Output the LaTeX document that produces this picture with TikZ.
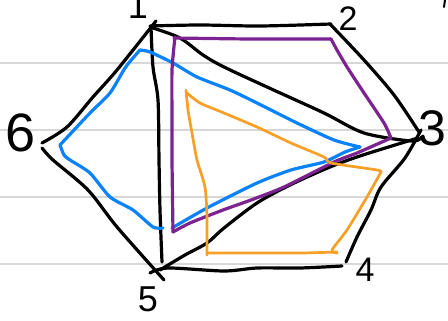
\documentclass[tikz,border=0pt]{standalone}
\usepackage{fontspec}
\setmainfont{Liberation Sans}
\definecolor{hblue}{RGB}{10,130,250}
\definecolor{hpurple}{RGB}{125,35,145}
\definecolor{horange}{RGB}{247,160,40}
\definecolor{hgray}{RGB}{215,215,215}
\tikzset{
  ink/.style={line width=3.2pt, line cap=round, line join=round},
  blk/.style={ink, black},
  blu/.style={ink, hblue},
  pur/.style={ink, hpurple},
  ora/.style={ink, horange, line width=2.7pt},
  rule/.style={hgray, line width=1.5pt},
  lab/.style={inner sep=0pt, font=\fontsize{#1}{#1}\selectfont}
}
\begin{document}
\begin{tikzpicture}[x=1pt,y=-1pt]
\useasboundingbox (0,0) rectangle (448,321);
\fill[white] (0,0) rectangle (448,321);
% notebook rules
\foreach \yy in {63,130,197,264} \draw[rule] (0,\yy) -- (448,\yy);
% vertices
\coordinate (v1) at (153,24);
\coordinate (v2) at (331,25);
\coordinate (v3) at (419,133);
\coordinate (v4) at (344,265);
\coordinate (v5) at (158,271);
\coordinate (v6) at (42,144);
% hexagon
\draw[blk] plot[smooth,tension=0.5] coordinates {(150,26) (200,25) (260,26) (331,24)};
\draw[blk] plot[smooth,tension=0.5] coordinates {(330,24) (364,60) (394,95) (419,132)};
\draw[blk] plot[smooth,tension=0.5] coordinates {(421,130) (405,158) (381,187) (371,210) (357,237) (346,262)};
\draw[blk] plot[smooth,tension=0.5] coordinates {(342,266) (300,268) (257,268) (224,271) (168,268) (150,273)};
\draw[blk] plot[smooth,tension=0.5] coordinates {(164,280) (117,227) (88,190) (53,160) (42,148)};
\draw[blk] plot[smooth,tension=0.5] coordinates {(42,143) (67,127) (93,97) (117,70) (156,21)};
% diagonals
\draw[blk] plot[smooth,tension=0.5] coordinates {(151,27) (153,67) (158,100) (159,160) (160,210) (162,262)};
\draw[blk] plot[smooth,tension=0.5] coordinates {(153,28) (180,38) (203,55) (224,67) (267,87) (324,113) (364,133) (412,141) (423,136)};
\draw[blk] plot[smooth,tension=0.5] coordinates {(418,138) (363,155) (330,167) (290,185) (257,203) (224,228) (207,243) (185,255) (160,270)};
% blue
\draw[blu] plot[smooth,tension=0.4] coordinates {(140,50) (133,58) (125,68) (110,93) (90,113) (60,145)};
\draw[blu] plot[smooth,tension=0.4] coordinates {(60,145) (64,155) (70,160) (90,173) (110,197) (133,210) (153,227) (163,228)};
\draw[blu] plot[smooth,tension=0.4] coordinates {(172,228) (207,208) (257,183) (291,170) (324,162) (345,152) (360,147)};
\draw[blu] plot[smooth,tension=0.4] coordinates {(360,147) (334,140) (297,123) (257,103) (230,90) (197,77) (173,63) (150,52) (140,50)};
% purple
\draw[pur] plot[smooth,tension=0.4] coordinates {(174,38) (250,39) (331,39)};
\draw[pur] plot[smooth,tension=0.4] coordinates {(331,39) (337,50) (347,67) (364,93) (384,123) (391,138)};
\draw[pur] plot[smooth,tension=0.4] coordinates {(391,138) (357,153) (334,162) (284,187) (251,200) (223,210) (190,223) (173,232)};
\draw[pur] plot[smooth,tension=0.4] coordinates {(173,232) (172,160) (172,120) (172,70) (175,37)};
% orange
\draw[ora] plot[smooth,tension=0.4] coordinates {(187,93) (200,103) (224,113) (257,127) (291,143) (324,157) (331,163) (377,170) (381,172)};
\draw[ora] plot[smooth,tension=0.4] coordinates {(381,172) (367,197) (347,230) (332,250) (337,253)};
\draw[ora] plot[smooth,tension=0.4] coordinates {(337,252) (300,253) (224,253) (208,253)};
\draw[ora] plot[smooth,tension=0.4] coordinates {(207,255) (207,217) (205,187) (197,160) (192,133) (188,110) (186,90)};
% stray mark top right
\coordinate (m1) at (445,0);
\coordinate (m2) at (444,7);
\draw[blk, line width=2pt] (m1) -- (m2);
% labels
\node[lab=36] (l1) at (138,6) {1};
\node[lab=34] (l2) at (348,19) {2};
\node[lab=50] (l3) at (432,128) {3};
\node[lab=34] (l4) at (365,270) {4};
\node[lab=36] (l5) at (148,299) {5};
\node[lab=54] (l6) at (21,133) {6};
\end{tikzpicture}
\end{document}
